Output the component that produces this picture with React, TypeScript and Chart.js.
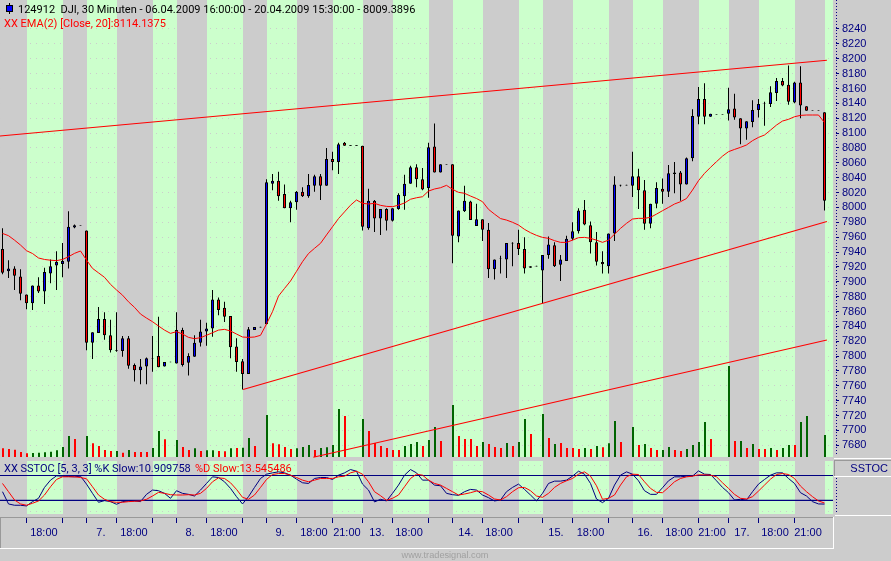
import React, { useEffect, useRef } from "react";
import Chart from "chart.js/auto";

const opens = [7944,7914,7918,7907,7883,7871,7895,7887,7911,7922,7924,7927,7973,7976.5,7969,7818,7831,7850,7828,7808,7807,7824,7788,7781,7786,7797,7800,7786,7792.4,7790,7835,7791,7799,7818,7833,7837,7876,7865,7854,7813,7793,7776,7835,7839.4,7843,8032,8036,8018,7999,8007,8021,8015,8029,8042,8029,8065,8061,8087,8083.9,8083.9,8083,7972,8009,7985,7998,7982,7998,8015,8032,8054,8038,8026,8082,8047,8058.4,8058,7961,7995,8008,7975,7984,7970,7917,7931.4,7930,7952.4,7952,7944,7919,7921.4,7915,7936,7949,7923,7928,7958,7968,7997,7976,7953,7926.6,7921,7965,8030.4,8030.4,8029,8042,8023,7978,8005,8025,8021,8045,8047,8031,8066,8122,8146,8122,8125.4,8125.4,8126,8133,8120,8106,8115,8131,8140.2,8139,8154,8170,8165,8141,8168,8136,8130.4,8130.4,8128];
const closes = [7912,7918,7908,7884,7871,7895,7887,7913,7921,7927,7928,7974,7976,7975.7,7818,7832,7850,7828,7808,7807,7824,7787,7781,7786,7797,7796.3,7785,7792,7791.6,7835,7788,7800,7818,7833,7837,7876,7862,7853,7812,7792,7776,7836,7839,7838.6,8034,8036,8015,7999,8007,8021,8015,8030,8042,8029,8065,8061,8085,8083,8083.1,8083.1,7974,8009,7985,7998,7982,7999,8017,8032,8054,8038,8024,8081,8047,8058,8057.6,7962,7996,8009,7983,7984,7970,7917,7930,7930.6,7952,7951.6,7944,7918,7921,7920.6,7936,7950,7921,7930,7958,7968,7996,7977,7953,7927,7923.4,7965,8031,8029.6,8029.6,8042,8023,7978,8005,8026,8021,8046,8047,8031,8066,8123,8146,8122,8126,8124.6,8124.6,8132,8121,8106,8116,8131,8139,8139.4,8155,8170,8164,8142,8168,8137,8130,8129.6,8129.6,8009];
const highs = [7972,7929,7921,7917,7883,7895,7906,7919,7930,7941,7952,7995,7977,7976.5,7969,7832,7866,7859,7849,7859,7827,7827,7790,7796,7798,7827,7853,7792,7792.4,7859,7838,7804,7828,7849,7845,7889,7879,7873,7854,7824,7796,7839,7839,7839.4,8038,8045,8048,8031,8009,8022,8027,8045,8044,8045,8080,8075,8087,8088,8083.9,8083.9,8083,8025,8010,7998,7999,7999,8019,8044,8056,8058,8053,8087,8113,8058,8058.4,8058,7996,8029,8009,8005,7984,7979,7930,7935,7952,7953,7970,7960,7921,7921.4,7936,7961,7953,7936,7962,7980,7999,8010,7981,7967,7941,7965,8042,8030.4,8030.4,8075,8052,8037,8005,8034,8039,8057,8061,8049,8067,8132,8162,8167,8126,8125.4,8125.4,8161,8153,8120,8116,8144,8146,8142,8163,8174,8174,8191,8169,8190,8136,8130.4,8130.4,8128];
const lows = [7910,7905,7889,7875,7863,7862,7885,7870,7898,7889,7906,7918,7972,7975.7,7808,7796,7831,7822,7805,7806,7799,7783,7766,7762,7762,7779,7785,7786,7791.6,7790,7786,7774,7799,7813,7814,7826,7855,7846,7797,7779,7755,7776,7835,7838.6,7843,8023,8009,7999,7980,7997,8014,8013,8021,8010,8029,8050,8045,8083,8083.1,8083.1,7969,7970,7967,7963,7969,7981,7997,7997,8032,8027,8023,8013,8047,8047,8057.6,7925,7953,7994,7983,7975,7955,7905,7903,7911,7905,7921,7936,7911,7919,7920.6,7871,7931,7920,7901,7928,7956,7965,7976,7938,7922,7911,7911,7955,8028,8029.6,8014,7998,7970,7972,7999,8005,8014,8019,8009,8031,8062,8112,8112,8122,8124.6,8124.6,8117,8118,8085,8091,8108,8121,8110,8135,8143,8163,8138,8140,8120,8130,8129.6,8129.6,7996];
const ema = [7965,7962,7956,7949.4,7941.8,7938,7932,7930,7929,7928.4,7930,7933.7,7938.2,7941.4,7929.3,7918,7912,7906,7896.5,7889,7882,7873,7865.6,7856.6,7851.2,7846.3,7840.5,7835,7830.6,7832.9,7829.7,7825.2,7823.5,7824.8,7828,7831.5,7835,7836,7833.8,7829.7,7825.7,7825.2,7825.7,7828,7843.2,7859.8,7880.8,7891,7901,7914,7927,7938,7945,7951.7,7963,7974,7985,7994,8003,8010,8005.5,8004.6,8005.5,8002.8,8001.4,8001,8003,8006,8011,8013,8014.4,8022,8024.8,8026.5,8029.7,8024.3,8020.3,8019,8015.3,8012,8007.7,7997.4,7991,7985,7983,7980,7976.3,7970.5,7966,7962.4,7959.7,7958.4,7955.3,7953,7953,7956,7959.3,7959.7,7958.4,7956,7953,7956,7964,7971.8,7978.6,7984.4,7985.3,7985.3,7986.7,7991,7995.6,8000,8004.6,8007.7,8012,8023.4,8036,8045.8,8053.9,8061.5,8069,8075,8078,8080.8,8084,8089.8,8094.2,8097.4,8104,8110.8,8116.2,8118.5,8122,8123.8,8124.3,8124.3,8124.3,8114.1];
const volumes = [8.7,8,7.3,5,3.7,4,4.3,4.7,5.3,6.7,10,21,18,0,21,13.7,11,7,6,6,4.3,7,5,5,5,9,26,17.7,0,17,10,7,8.7,6,6.7,6.7,6,5.7,8.7,9,9.3,19,11,0,42,13.7,12.7,10,8,8.7,10,12,7,9,9.7,12,48,41,0,0,38,26,14,11,9,7,7,11,13,15,11,17,30,16,0,52,21,18,18,11,15,13,10,9,14,11,15,38,23,0,43,19,13,14,9,9,8,9,8,11,9.7,13.7,36,15,0,30,12,13,9,7,7,10,7,6,8,12,15,35,18,0,0,91,16,16,9,13,8,8,9,7,9,12,12,35,41,0,0,22];
const volumeUp = [0,0,0,0,0,1,1,1,1,1,1,1,0,0,1,0,0,0,0,1,0,1,0,0,0,1,1,0,0,1,0,0,1,0,1,1,0,0,1,0,1,1,0,0,1,0,0,0,0,1,1,1,0,1,1,1,1,0,0,0,1,0,0,0,0,0,0,1,1,1,0,1,1,0,0,1,0,0,0,0,1,0,0,0,1,0,1,1,0,0,1,0,1,0,0,0,0,1,0,1,0,1,1,0,0,1,0,1,0,0,1,1,0,0,1,1,1,1,0,0,0,1,0,1,0,1,0,0,1,0,1,1,0,1,1,0,0,1];
const stochK = [40.8,11.2,8,8,6.4,16.8,24.8,51.2,68.8,79.2,78.4,77.6,76.8,78.4,59.2,36.8,15.2,19.2,16.8,10.4,16.8,18.4,18.4,16.8,34.4,44.8,43.2,36.8,24.8,43.2,36.8,34.4,30.4,44.8,60.8,76.8,75.2,64.8,48.8,28.8,11.2,28.8,51.2,72.8,83.2,86.4,88.8,86.4,80.8,71.2,62.4,60.8,72.8,75.2,75.2,70.4,80.8,86.4,94.4,90.4,59.2,44.8,16,22.4,18.4,36.8,56.8,80.8,94.4,86.4,68.8,68.8,56.8,55.2,36.8,33.6,32,40.8,46.4,44.8,32.8,26.4,18.4,20.8,40.8,51.2,59.2,46.4,32.8,18.4,36.8,60.8,66.4,66.4,68.8,78.4,90.4,83.2,60.8,23.2,14.4,24.8,56.8,80.8,88.8,83.2,67.2,43.2,34.4,34.4,50.4,67.2,76.8,76.8,78.4,78.4,91.2,83.2,82.4,67.2,51.2,38.4,20.8,22.4,20.8,40.8,59.2,70.4,80.8,86.4,86.4,72.8,60.8,38.4,30.4,16.8,11.2,10.9];
const stochD = [60.8,40.8,20.8,11.2,8,12.8,18.4,32.8,52.8,70.4,76.8,76.8,76.8,75.2,72,52.8,32.8,22.4,16.8,15.2,15.2,16.8,17.6,18.4,22.4,30.4,39.2,36.8,33.6,32.8,32.8,33.6,32.8,36.8,48.8,64.8,74.4,72.8,62.4,46.4,27.2,22.4,32.8,51.2,70.4,82.4,84.8,84.8,80.8,75.2,68.8,64.8,68.8,72.8,72.8,72.8,76.8,78.4,86.4,90.4,83.2,64.8,40.8,31.2,20,24.8,32.8,52.8,72.8,83.2,80.8,68.8,60.8,56.8,48.8,40.8,32.8,35.2,38.4,42.4,40.8,32.8,23.2,20.8,28.8,40.8,50.4,51.2,43.2,30.4,27.2,36.8,51.2,60.8,67.2,72.8,83.2,88.8,78.4,55.2,22.4,24.8,32.8,56.8,76.8,83.2,82.4,64.8,48.8,39.2,38.4,51.2,64.8,72.8,76.8,78.4,81.6,81.6,80.8,76.8,62.4,48.8,34.4,24.8,23.2,28.8,42.4,56.8,71.2,82.4,84.8,82.4,72.8,54.4,40.8,28.8,18.4,13.5];
const stochLevels = [80, 20];
const trendTopX = [-0.42, 137.4];
const trendTopY = [8096, 8198];
const trendMidX = [40.1, 137.4];
const trendMidY = [7755, 7981];
const trendLowX = [51.8, 137.4];
const trendLowY = [7664, 7821.6];
const priceTicks = [8240,8220,8200,8180,8160,8140,8120,8100,8080,8060,8040,8020,8000,7980,7960,7940,7920,7900,7880,7860,7840,7820,7800,7780,7760,7740,7720,7700,7680];
const bandStarts = [4,14,25,34,44,55,65,75,86,95,105,116,126,137];
const bandEnds = [10,19,29,40,49,60,71,80,90,101,110,121,132,138.42];
const timeMarks = [4,10,14,19,25,29,34,40,44,49,55,60,65,71,75,80,86,90,95,101,105,110,116,121,126,132];
const timeLabelAt = [6.9,16.4,21.9,31.25,36.9,46.25,51.9,57.4,62.4,67.75,77.25,82.75,92.25,98,107.1,112.75,118.25,123.25,128.75,134.25];
const timeLabels = ["18:00","7.","18:00","8.","18:00","9.","18:00","21:00","13.","18:00","14.","18:00","15.","18:00","16.","18:00","21:00","17.","18:00","21:00"];
const stochGridRows = [105, 47, -8];

const headerText = "124912  DJI, 30 Minuten - 06.04.2009 16:00:00 - 20.04.2009 15:30:00 - 8009.3896";
const emaText = "XX EMA(2) [Close, 20]:8114.1375";
const stochKText = "XX SSTOC [5, 3, 3] %K Slow:10.909758";
const stochDText = "%D Slow:13.545486";
const paneText = "SSTOC";
const footerText = "www.tradesignal.com";

const NAVY = "#000080";
const RED = "#FF0000";
const BLUE = "#0000FF";
const GREEN = "#006400";
const GREY = "#CCCCCC";
const BAND = "#CCFFCC";
const FONT = '"Roboto"';
const AXIS_FONT = '"Liberation Sans"';

const X_MIN = -2.5 / 6;
const X_MAX = (836 - 2.5) / 6;

function pairs(xs: number[], ys: number[]) {
  return xs.map((x, i) => ({ x, y: ys[i] }));
}

function series(ys: number[]) {
  return ys.map((y, i) => ({ x: i, y }));
}

function noPadding(s: any) {
  s.paddingLeft = 0;
  s.paddingRight = 0;
  s.paddingTop = 0;
  s.paddingBottom = 0;
}

const chrome = {
  id: "chrome",
  beforeDraw(chart: any) {
    const { ctx, width, height } = chart;
    const x = chart.scales.x;
    ctx.save();
    ctx.fillStyle = GREY;
    ctx.fillRect(0, 0, width, height);
    ctx.fillStyle = BAND;
    bandStarts.forEach((s, i) => {
      const a = Math.round(x.getPixelForValue(s));
      const b = Math.min(833, Math.round(x.getPixelForValue(bandEnds[i])));
      ctx.fillRect(a, 0, b - a, 457);
      ctx.fillRect(a, 461, b - a, 53);
    });
    ctx.restore();
  },
  beforeDatasetsDraw(chart: any) {
    const { ctx } = chart;
    ctx.save();
    ctx.textBaseline = "middle";
    ctx.font = `11px ${FONT}`;
    ctx.fillStyle = NAVY;
    ctx.fillText(stochKText, 4, 469.5);
    ctx.fillStyle = RED;
    ctx.fillText(stochDText, 195, 469.5);
    ctx.restore();
  },
  afterDraw(chart: any) {
    const { ctx, width } = chart;
    ctx.save();
    ctx.textBaseline = "middle";
    ctx.font = `11px ${FONT}`;
    ctx.fillStyle = "#000000";
    ctx.fillText(headerText, 18, 10);
    ctx.fillStyle = RED;
    ctx.fillText(emaText, 4, 24);

    // little candle icon in the header
    ctx.fillStyle = "#000000";
    ctx.fillRect(9, 3, 1, 11);
    ctx.fillRect(6, 5, 7, 7);
    ctx.fillStyle = BLUE;
    ctx.fillRect(7, 6, 5, 5);

    // dotted axis line of the price and stochastic panes
    ctx.strokeStyle = NAVY;
    ctx.setLineDash([1, 2]);
    ctx.beginPath();
    ctx.moveTo(836.5, 0);
    ctx.lineTo(836.5, 456);
    ctx.moveTo(836.5, 478);
    ctx.lineTo(836.5, 514);
    ctx.stroke();
    ctx.setLineDash([]);

    // pane box on the right
    ctx.fillStyle = GREY;
    ctx.fillRect(834, 458, width - 834, 20);
    ctx.fillStyle = "#FFFFFF";
    ctx.fillRect(834, 458, width - 834, 1);
    ctx.fillRect(834, 476, width - 834, 1);
    ctx.fillRect(835, 515, width - 835, 1);
    ctx.fillStyle = "#999999";
    ctx.fillRect(834, 460, width - 834, 1);
    ctx.fillRect(834, 460, 1, 16);
    ctx.fillStyle = NAVY;
    ctx.textAlign = "right";
    ctx.font = `11px ${AXIS_FONT}`;
    ctx.fillText(paneText, 888, 468.5);
    ctx.textAlign = "left";

    // time strip frame
    ctx.fillStyle = "#999999";
    ctx.fillRect(0, 517, 833, 1);
    ctx.fillRect(0, 517, 1, 31);
    ctx.fillStyle = "#FFFFFF";
    ctx.fillRect(0, 548, 834, 1);
    ctx.fillRect(833, 517, 1, 32);

    // footer
    ctx.fillStyle = "#A0A0A0";
    ctx.font = `9.2px ${AXIS_FONT}`;
    ctx.textAlign = "center";
    ctx.fillText(footerText, 445, 555);
    ctx.restore();
  },
};

export default function App() {
  const ref = useRef<HTMLCanvasElement | null>(null);

  useEffect(() => {
    document.body.style.margin = "0";
    const candleFill = (c: any) => {
      const i = c.dataIndex;
      if (Math.abs(opens[i] - closes[i]) < 1.6) return "#000000";
      return closes[i] > opens[i] ? BLUE : RED;
    };
    const common = { pointRadius: 0, tension: 0, fill: false };
    const chart = new Chart(ref.current as HTMLCanvasElement, {
      type: "bar",
      plugins: [chrome],
      data: {
        datasets: [
          {
            type: "bar",
            data: volumes.map((v, i) => ({ x: i + 0.5 / 6, y: v })),
            yAxisID: "yVol",
            backgroundColor: volumeUp.map((u) => (u ? GREEN : RED)),
            barThickness: 2,
            grouped: false,
            inflateAmount: 0,
            order: 8,
          },
          {
            type: "bar",
            data: lows.map((l, i) => ({ x: i, y: [l, highs[i]] })),
            yAxisID: "y",
            backgroundColor: "#000000",
            barThickness: 1,
            grouped: false,
            inflateAmount: 0,
            order: 7,
          },
          {
            type: "bar",
            data: opens.map((o, i) => ({ x: i, y: [o, closes[i]] })),
            yAxisID: "y",
            backgroundColor: candleFill,
            borderColor: "#000000",
            borderWidth: 1,
            borderSkipped: false,
            barThickness: 3,
            grouped: false,
            inflateAmount: 0,
            order: 6,
          },
          { type: "line", data: series(ema), yAxisID: "y", borderColor: RED, borderWidth: 1, order: 5, ...common },
          { type: "line", data: pairs(trendTopX, trendTopY), yAxisID: "y", borderColor: RED, borderWidth: 1.1, order: 4, ...common },
          { type: "line", data: pairs(trendMidX, trendMidY), yAxisID: "y", borderColor: RED, borderWidth: 1.1, order: 4, ...common },
          { type: "line", data: pairs(trendLowX, trendLowY), yAxisID: "y", borderColor: RED, borderWidth: 1.1, order: 4, ...common },
          ...stochLevels.map((level) => ({
            type: "line",
            data: pairs([X_MIN, 138.42], [level, level]),
            yAxisID: "yStoch",
            borderColor: NAVY,
            borderWidth: 1.2,
            order: 3,
            ...common,
          })),
          { type: "line", data: series(stochK), yAxisID: "yStoch", borderColor: NAVY, borderWidth: 1, order: 2, ...common },
          { type: "line", data: series(stochD), yAxisID: "yStoch", borderColor: RED, borderWidth: 1, order: 1, ...common },
        ] as any,
      },
      options: {
        animation: false,
        responsive: false,
        devicePixelRatio: 1,
        events: [],
        layout: { padding: 0 },
        plugins: { legend: { display: false }, tooltip: { enabled: false }, title: { display: false } },
        scales: {
          xMarks: {
            type: "linear",
            axis: "x",
            position: "bottom",
            weight: 0,
            offset: false,
            min: X_MIN,
            max: X_MAX,
            border: { display: false },
            grid: { offset: false, drawOnChartArea: false, drawTicks: true, tickLength: 6, tickColor: NAVY },
            ticks: { display: false },
            afterBuildTicks: (s: any) => {
              s.ticks = timeMarks.map((value) => ({ value }));
            },
            afterFit: (s: any) => {
              s.height = 6;
              noPadding(s);
            },
          },
          x: {
            type: "linear",
            position: "bottom",
            weight: 1,
            offset: false,
            min: X_MIN,
            max: X_MAX,
            border: { display: false },
            grid: { offset: false, display: false, drawTicks: false },
            ticks: {
              autoSkip: false,
              maxRotation: 0,
              padding: 3,
              color: NAVY,
              font: { family: AXIS_FONT, size: 11 },
              callback: (_v: any, i: number) => timeLabels[i],
            },
            afterBuildTicks: (s: any) => {
              s.ticks = timeLabelAt.map((value) => ({ value }));
            },
            afterFit: (s: any) => {
              s.height = 38;
              noPadding(s);
            },
          },
          y: {
            type: "linear",
            position: "right",
            min: 7583.6,
            max: 8279,
            border: { display: false, dash: [1, 5] },
            grid: { color: GREY, tickColor: NAVY, tickLength: 3 },
            ticks: {
              autoSkip: false,
              padding: 3,
              color: NAVY,
              font: { family: AXIS_FONT, size: 11 },
              callback: (v: any) => String(v),
            },
            afterBuildTicks: (s: any) => {
              s.ticks = priceTicks.map((value) => ({ value }));
            },
            afterFit: (s: any) => {
              s.width = 55;
              noPadding(s);
            },
          },
          yVol: { type: "linear", display: false, min: -60, max: 457 },
          yStoch: {
            type: "linear",
            position: "right",
            min: -20.4,
            max: 1230.5,
            border: { display: false, dash: [1, 5] },
            grid: { color: GREY, drawTicks: false },
            ticks: { display: false },
            afterBuildTicks: (s: any) => {
              s.ticks = stochGridRows.map((value) => ({ value }));
            },
            afterFit: (s: any) => {
              s.width = 0;
              noPadding(s);
            },
          },
        },
      } as any,
    });
    return () => chart.destroy();
  }, []);

  return (
    <canvas
      ref={ref}
      width={891}
      height={561}
      style={{ display: "block", width: 891, height: 561 }}
    />
  );
}
